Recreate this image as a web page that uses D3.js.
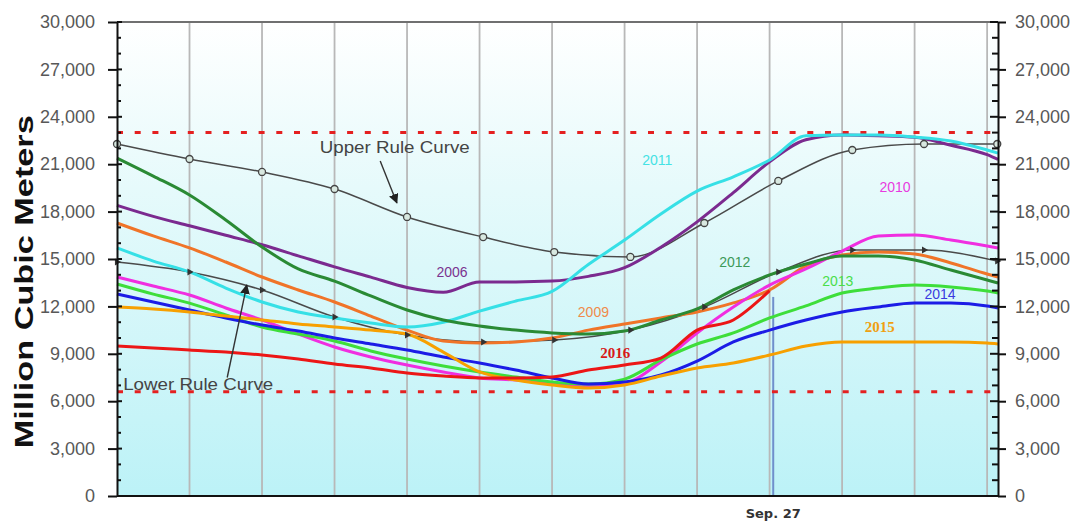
<!DOCTYPE html>
<html>
<head>
<meta charset="utf-8">
<script src="https://cdn.jsdelivr.net/npm/d3@7"></script>
<style>
body { margin: 0; background: #fff; }
svg { display: block; }
</style>
</head>
<body>
<div id="viz"></div>
<script>
// x is counted in months from the left edge of the plot, one reading every half month
const months = [0, 0.5, 1, 1.5, 2, 2.5, 3, 3.5, 4, 4.5, 5, 5.5, 6, 6.5, 7, 7.5, 8, 8.5, 9, 9.5, 10, 10.5, 11, 11.5, 12, 12.15];

// storage, million cubic meters
const s2006 = [18400, 17700, 17100, 16500, 15900, 15200, 14500, 13850, 13200, 12900, 13550, 13550, 13600, 13900, 14450, 15750, 17350, 19200, 21150, 22550, 22850, 22800, 22700, 22200, 21600, 21300];
const s2009 = [17280, 16460, 15700, 14810, 13860, 13040, 12280, 11390, 10500, 9810, 9680, 9750, 10000, 10500, 10890, 11270, 11650, 12220, 13040, 14560, 15250, 15440, 15320, 14750, 14050, 13860];
const s2010 = [13860, 13290, 12720, 11900, 11140, 10250, 9430, 8800, 8290, 7850, 7470, 7340, 7150, 6960, 7150, 8480, 10320, 11960, 13350, 14370, 15500, 16460, 16520, 16200, 15820, 15700];
const s2011 = [15700, 14870, 14180, 13160, 12280, 11650, 11270, 10950, 10700, 11000, 11700, 12340, 12950, 14650, 16200, 17850, 19300, 20200, 21270, 22800, 22850, 22850, 22720, 22470, 21900, 21700];
const s2012 = [21390, 20250, 19050, 17470, 15760, 14370, 13600, 12660, 11770, 11140, 10760, 10500, 10320, 10250, 10440, 11140, 11840, 13040, 13990, 14680, 15190, 15190, 14940, 14300, 13670, 13480];
const s2013 = [13420, 12780, 12210, 11460, 10700, 10250, 9810, 9180, 8670, 8230, 7850, 7530, 7220, 7090, 7400, 8610, 9620, 10320, 11270, 12030, 12850, 13160, 13350, 13230, 12970, 12850];
const s2014 = [12780, 12280, 11770, 11270, 10820, 10440, 10000, 9620, 9240, 8800, 8420, 7970, 7470, 7090, 7220, 7660, 8540, 9750, 10500, 11140, 11650, 11960, 12210, 12210, 12030, 11900];
const s2015 = [11960, 11840, 11650, 11390, 11140, 10890, 10700, 10500, 10250, 9110, 7850, 7340, 7030, 6840, 7030, 7590, 8100, 8420, 8920, 9490, 9750, 9750, 9750, 9750, 9680, 9620];
// 2016 stops at the current date
const s2016 = [9490, 9370, 9240, 9110, 8920, 8670, 8350, 8100, 7780, 7590, 7470, 7470, 7530, 7970, 8290, 8730, 10500, 11140, 13000, null, null, null, null, null, null, null];

// rule curves, one point per month
const ruleMonths = [0, 1, 2, 3, 4, 5.05, 6.03, 7.08, 8.1, 9.12, 10.14, 11.13, 12.14];
const upperRule = [22280, 21330, 20510, 19430, 17660, 16390, 15440, 15130, 17280, 19940, 21900, 22280, 22280];
const lowerRule = [14810, 14180, 13040, 11330, 10190, 9750, 9870, 10500, 11960, 14180, 15570, 15570, 14870];

const limits = [23000, 6600];
const yTicks = [0, 3000, 6000, 9000, 12000, 15000, 18000, 21000, 24000, 27000, 30000];
const markMonth = 9.05;
const markLabel = "Sep. 27";

const svg = d3.select("#viz")
    .append("svg")
    .attr("width", 1077)
    .attr("height", 523);

const width = 1077;
const height = 523;

const series = [
    {name: "2006", values: s2006},
    {name: "2009", values: s2009},
    {name: "2010", values: s2010},
    {name: "2011", values: s2011},
    {name: "2012", values: s2012},
    {name: "2013", values: s2013},
    {name: "2014", values: s2014},
    {name: "2015", values: s2015},
    {name: "2016", values: s2016}
];

const colors = {
    "2006": "#7b2a8f", "2009": "#f07428", "2010": "#f02ee0", "2011": "#36e0e6",
    "2012": "#2a8a34", "2013": "#3ede3a", "2014": "#1c1ce6", "2015": "#f7a000", "2016": "#ec1616"
};
const labelColors = {
    "2006": "#7a3390", "2009": "#f08a4a", "2010": "#e83ae0", "2011": "#44e2e4",
    "2012": "#3c9a58", "2013": "#4ade4a", "2014": "#3a3ae0", "2015": "#f0a010", "2016": "#d81818"
};
// label spots in chart units (month, storage)
const labelSpots = {
    "2011": [7.45, 21250], "2010": [10.73, 19550], "2006": [4.62, 14200], "2012": [8.52, 14800],
    "2013": [9.94, 13600], "2009": [6.57, 11650], "2014": [11.35, 12780], "2015": [10.52, 10700],
    "2016": [6.87, 9050]
};

const render = () => {
    const margin = {top: 22, right: 79, left: 117, bottom: 27};
    const innerWidth = width - margin.left - margin.right;
    const innerHeight = height - margin.top - margin.bottom;

    const xScale = d3.scaleLinear()
        .domain([0, 12.15])
        .range([0, innerWidth]);

    const yScale = d3.scaleLinear()
        .domain([0, 30000])
        .range([innerHeight, 0]);

    const defs = svg.append("defs");
    const grad = defs.append("linearGradient")
        .attr("id", "bg").attr("x1", 0).attr("y1", 0).attr("x2", 0).attr("y2", 1);
    grad.append("stop").attr("offset", "0%").attr("stop-color", "#ffffff");
    grad.append("stop").attr("offset", "35%").attr("stop-color", "#e6fafb");
    grad.append("stop").attr("offset", "100%").attr("stop-color", "#bcf2f7");

    defs.append("marker")
        .attr("id", "arrow")
        .attr("viewBox", "0 0 10 10")
        .attr("refX", 9).attr("refY", 5)
        .attr("markerWidth", 7).attr("markerHeight", 7)
        .attr("orient", "auto")
        .append("path")
            .attr("d", "M0,0 L10,5 L0,10 z")
            .attr("fill", "#222");

    const g = svg.append("g")
        .attr("transform", `translate(${margin.left}, ${margin.top})`);

    g.append("rect")
        .attr("width", innerWidth)
        .attr("height", innerHeight)
        .attr("fill", "url(#bg)");

    // monthly grid
    g.selectAll(".grid").data(d3.range(1, 13))
        .enter().append("line")
            .attr("class", "grid")
            .attr("x1", d => xScale(d)).attr("x2", d => xScale(d))
            .attr("y1", 0).attr("y2", innerHeight)
            .attr("stroke", "#b8b8b8")
            .attr("stroke-width", 1.8);

    // current date marker
    g.append("line")
        .attr("x1", xScale(markMonth)).attr("x2", xScale(markMonth))
        .attr("y1", yScale(12600)).attr("y2", innerHeight)
        .attr("stroke", "#6f8fcc")
        .attr("stroke-width", 2);

    // top frame
    g.append("line")
        .attr("x1", 0).attr("x2", innerWidth)
        .attr("y1", 0).attr("y2", 0)
        .attr("stroke", "#707070")
        .attr("stroke-width", 2);

    // min / max storage limits
    g.selectAll(".limit").data(limits)
        .enter().append("line")
            .attr("class", "limit")
            .attr("x1", 0).attr("x2", innerWidth - 6)
            .attr("y1", d => yScale(d)).attr("y2", d => yScale(d))
            .attr("stroke", "#e42020")
            .attr("stroke-width", 3)
            .attr("stroke-dasharray", "6,11.7");

    const ruleLine = d3.line()
        .x((d, i) => xScale(ruleMonths[i]))
        .y(d => yScale(d))
        .curve(d3.curveMonotoneX);

    [upperRule, lowerRule].forEach(r => {
        g.append("path")
            .attr("d", ruleLine(r))
            .attr("fill", "none")
            .attr("stroke", "#4a4a4a")
            .attr("stroke-width", 1.5);
    });

    const yearLine = d3.line()
        .defined(d => d != null)
        .x((d, i) => xScale(months[i]))
        .y(d => yScale(d))
        .curve(d3.curveMonotoneX);

    g.selectAll(".year").data(series)
        .enter().append("path")
            .attr("class", "year")
            .attr("d", d => yearLine(d.values))
            .attr("fill", "none")
            .attr("stroke", d => colors[d.name])
            .attr("stroke-width", 3)
            .attr("stroke-linejoin", "round");

    // rule curve markers
    g.selectAll(".upmark").data(upperRule)
        .enter().append("circle")
            .attr("cx", (d, i) => xScale(ruleMonths[i]))
            .attr("cy", d => yScale(d))
            .attr("r", 3.5)
            .attr("fill", "#d8e8e0")
            .attr("stroke", "#444")
            .attr("stroke-width", 1.3);

    g.selectAll(".lowmark").data(lowerRule)
        .enter().append("path")
            .attr("d", d3.symbol(d3.symbolTriangle, 22))
            .attr("transform", (d, i) => `translate(${xScale(ruleMonths[i])},${yScale(d)}) rotate(90)`)
            .attr("fill", "#333");

    // year labels
    g.selectAll(".ylabel").data(series)
        .enter().append("text")
            .attr("x", d => xScale(labelSpots[d.name][0]))
            .attr("y", d => yScale(labelSpots[d.name][1]))
            .attr("text-anchor", "middle")
            .attr("dominant-baseline", "central")
            .attr("font-family", d => (d.name === "2015" || d.name === "2016") ? "Liberation Serif, Times New Roman, serif" : "Liberation Sans, Arial, sans-serif")
            .attr("font-weight", d => (d.name === "2015" || d.name === "2016") ? "bold" : "normal")
            .attr("font-size", d => (d.name === "2015" || d.name === "2016") ? 15 : 14)
            .attr("fill", d => labelColors[d.name])
            .text(d => d.name);

    // rule curve annotations
    const notes = [
        {text: "Upper Rule Curve", at: [3.83, 22030], from: [3.63, 21200], to: [3.86, 18550]},
        {text: "Lower Rule Curve", at: [1.12, 7050], from: [1.52, 7500], to: [1.79, 13350]}
    ];
    notes.forEach(n => {
        g.append("text")
            .attr("x", xScale(n.at[0]))
            .attr("y", yScale(n.at[1]))
            .attr("text-anchor", "middle")
            .attr("dominant-baseline", "central")
            .attr("font-family", "Liberation Sans, Arial, sans-serif")
            .attr("font-size", 16)
            .attr("textLength", 150)
            .attr("lengthAdjust", "spacingAndGlyphs")
            .attr("fill", "#444")
            .text(n.text);
        g.append("line")
            .attr("x1", xScale(n.from[0])).attr("y1", yScale(n.from[1]))
            .attr("x2", xScale(n.to[0])).attr("y2", yScale(n.to[1]))
            .attr("stroke", "#333")
            .attr("stroke-width", 1.4)
            .attr("marker-end", "url(#arrow)");
    });

    // axes
    const fmt = d3.format(",");
    const left = g.append("g")
        .call(d3.axisLeft(yScale).tickValues(yTicks).tickSize(9).tickSizeOuter(0).tickPadding(13).tickFormat(fmt));
    const right = g.append("g")
        .attr("transform", `translate(${innerWidth}, 0)`)
        .call(d3.axisRight(yScale).tickValues(yTicks).tickSize(8).tickSizeOuter(0).tickPadding(9).tickFormat(fmt));

    [left, right].forEach(a => {
        a.select(".domain").attr("stroke", "#111").attr("stroke-width", 2);
        a.selectAll(".tick line").attr("stroke", "#111").attr("stroke-width", 2);
        a.selectAll(".tick text")
            .attr("font-family", "Liberation Sans, Arial, sans-serif")
            .attr("font-size", 18)
            .attr("fill", "#585858");
    });

    // inner halves of the ticks and the minor ticks
    const minor = d3.range(0, 30001, 1000);
    g.selectAll(".lminor").data(minor)
        .enter().append("line")
            .attr("x1", 0).attr("x2", d => d % 3000 === 0 ? 5 : 4)
            .attr("y1", d => yScale(d)).attr("y2", d => yScale(d))
            .attr("stroke", "#111").attr("stroke-width", 2);
    g.selectAll(".rminor").data(minor)
        .enter().append("line")
            .attr("x1", innerWidth).attr("x2", d => innerWidth - (d % 3000 === 0 ? 8 : 6))
            .attr("y1", d => yScale(d)).attr("y2", d => yScale(d))
            .attr("stroke", "#111").attr("stroke-width", 2);

    // bottom axis line
    g.append("line")
        .attr("x1", 0).attr("x2", innerWidth)
        .attr("y1", innerHeight).attr("y2", innerHeight)
        .attr("stroke", "#111")
        .attr("stroke-width", 2);

    g.append("text")
        .attr("x", xScale(markMonth))
        .attr("y", innerHeight + 22)
        .attr("text-anchor", "middle")
        .attr("font-family", "DejaVu Sans, Verdana, sans-serif")
        .attr("font-weight", "bold")
        .attr("font-size", 13)
        .attr("fill", "#333")
        .text(markLabel);

    svg.append("text")
        .attr("transform", `translate(33, ${margin.top + innerHeight * 0.548}) rotate(-90)`)
        .attr("text-anchor", "middle")
        .attr("font-family", "Liberation Sans, Arial, sans-serif")
        .attr("font-weight", "bold")
        .attr("font-size", 25)
        .attr("textLength", 333)
        .attr("lengthAdjust", "spacingAndGlyphs")
        .attr("fill", "#111")
        .text("Million Cubic Meters");
};

render();
</script>
</body>
</html>
